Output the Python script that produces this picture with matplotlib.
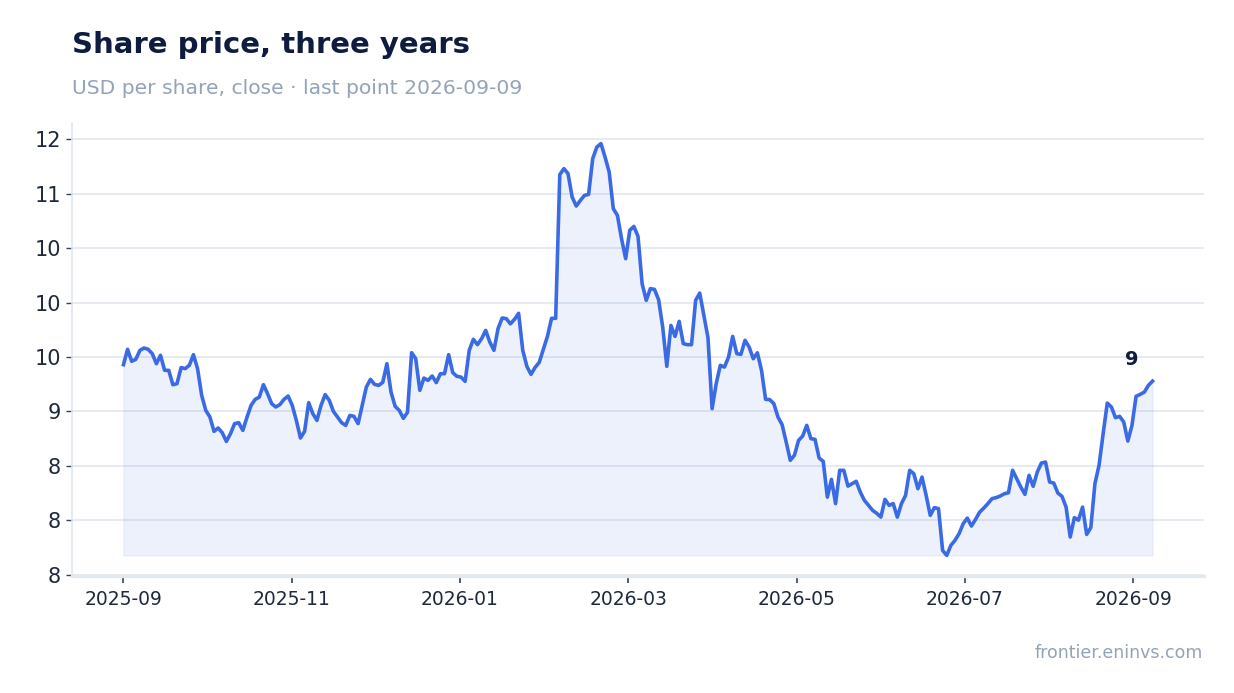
import matplotlib
matplotlib.use("Agg")
import matplotlib.pyplot as plt
import matplotlib.dates as mdates
from matplotlib.ticker import StrMethodFormatter, MultipleLocator
import pandas as pd

start_date = "2025-09-01"
end_date = "2026-09-09"

prices = [
    9.429, 9.570, 9.460, 9.478, 9.561, 9.582, 9.570, 9.530, 9.438, 9.515,
    9.377, 9.377, 9.245, 9.254, 9.402, 9.393, 9.423, 9.521, 9.393, 9.147,
    9.009, 8.948, 8.816, 8.847, 8.804, 8.724, 8.795, 8.887, 8.896, 8.825,
    8.945, 9.055, 9.110, 9.131, 9.245, 9.163, 9.071, 9.040, 9.062, 9.110,
    9.141, 9.055, 8.917, 8.755, 8.816, 9.080, 8.979, 8.917, 9.055, 9.154,
    9.101, 9.000, 8.948, 8.896, 8.871, 8.963, 8.954, 8.887, 9.055, 9.223,
    9.294, 9.248, 9.239, 9.267, 9.438, 9.177, 9.046, 9.009, 8.936, 8.991,
    9.539, 9.484, 9.193, 9.306, 9.285, 9.325, 9.264, 9.346, 9.346, 9.521,
    9.356, 9.322, 9.315, 9.276, 9.561, 9.662, 9.613, 9.668, 9.744, 9.637,
    9.561, 9.760, 9.858, 9.852, 9.804, 9.846, 9.901, 9.561, 9.414, 9.340,
    9.404, 9.450, 9.570, 9.689, 9.855, 9.855, 11.176, 11.231, 11.185, 10.970,
    10.887, 10.939, 10.985, 10.994, 11.323, 11.429, 11.461, 11.337, 11.199, 10.863,
    10.801, 10.587, 10.403, 10.664, 10.700, 10.608, 10.174, 10.020, 10.128, 10.121,
    10.027, 9.775, 9.414, 9.790, 9.689, 9.827, 9.622, 9.613, 9.613, 10.020,
    10.087, 9.882, 9.677, 9.025, 9.255, 9.423, 9.407, 9.499, 9.689, 9.530,
    9.524, 9.653, 9.591, 9.484, 9.538, 9.377, 9.110, 9.108, 9.071, 8.948,
    8.878, 8.718, 8.550, 8.596, 8.733, 8.773, 8.871, 8.749, 8.743, 8.571,
    8.540, 8.212, 8.375, 8.152, 8.458, 8.458, 8.313, 8.335, 8.357, 8.258,
    8.182, 8.136, 8.090, 8.063, 8.028, 8.191, 8.136, 8.152, 8.028, 8.152,
    8.228, 8.458, 8.427, 8.289, 8.396, 8.228, 8.044, 8.115, 8.106, 7.722,
    7.676, 7.768, 7.814, 7.876, 7.968, 8.019, 7.946, 8.007, 8.074, 8.111,
    8.152, 8.198, 8.207, 8.222, 8.243, 8.252, 8.458, 8.381, 8.304, 8.237,
    8.412, 8.311, 8.442, 8.525, 8.534, 8.350, 8.341, 8.249, 8.219, 8.120,
    7.845, 8.023, 8.000, 8.120, 7.869, 7.931, 8.335, 8.504, 8.795, 9.076,
    9.040, 8.942, 8.954, 8.902, 8.727, 8.871, 9.138, 9.156, 9.177, 9.239,
    9.278,
]

dates = pd.date_range(start_date, end_date, periods=len(prices))
tick_dates = pd.date_range(start_date, periods=7, freq="61D")

title = "Share price, three years"
subtitle = "USD per share, close \u00b7 last point 2026-09-09"
source = "frontier.eninvs.com"

LINE = "#3a6ae4"
NAVY = "#0f1c3f"
GRAY = "#94a3b8"
GRID = "#e2e8f0"
TICK = "#1e293b"

fig = plt.figure(figsize=(12.34, 6.93), dpi=100)
ax = fig.add_axes([72 / 1234, 1 - 576 / 693, (1204 - 72) / 1234, (576 - 123) / 693])

ax.plot(dates, prices, color=LINE, linewidth=2.6, solid_joinstyle="round", zorder=3)
ax.fill_between(dates, prices, min(prices), color=LINE, alpha=0.09, linewidth=0.8, zorder=2)

ax.yaxis.set_major_locator(MultipleLocator(0.5))
ax.yaxis.set_major_formatter(StrMethodFormatter("{x:.0f}"))
ax.set_xticks(tick_dates)
ax.xaxis.set_major_formatter(mdates.DateFormatter("%Y-%m"))

ax.grid(axis="y", color=GRID, linewidth=1.2)
ax.grid(axis="x", visible=False)
ax.set_axisbelow(True)

for side in ("top", "right"):
    ax.spines[side].set_visible(False)
ax.spines["left"].set_color(GRID)
ax.spines["left"].set_linewidth(1.2)
ax.spines["bottom"].set_color(GRID)
ax.spines["bottom"].set_linewidth(2.4)

ax.tick_params(axis="y", labelsize=15, colors=TICK, length=4, width=1, pad=4)
ax.tick_params(axis="x", labelsize=13.5, colors=TICK, length=5, width=1.2, pad=5)
ax.tick_params(axis="both", color="#334155")

last_val = prices[-1]
ax.annotate(f"{last_val:.0f}", xy=(dates[-1], last_val), xytext=(-15, 9),
            textcoords="offset points", ha="center", va="bottom",
            fontsize=14, fontweight="bold", color=NAVY)

fig.text(72 / 1234, 1 - 53 / 693, title, fontsize=21, fontweight="bold", color=NAVY, va="baseline")
fig.text(72 / 1234, 1 - 94 / 693, subtitle, fontsize=14.6, color=GRAY, va="baseline")
fig.text(1203 / 1234, 1 - 658 / 693, source, fontsize=12.5, color=GRAY, ha="right", va="baseline")

fig.savefig("out.png", dpi=100)
